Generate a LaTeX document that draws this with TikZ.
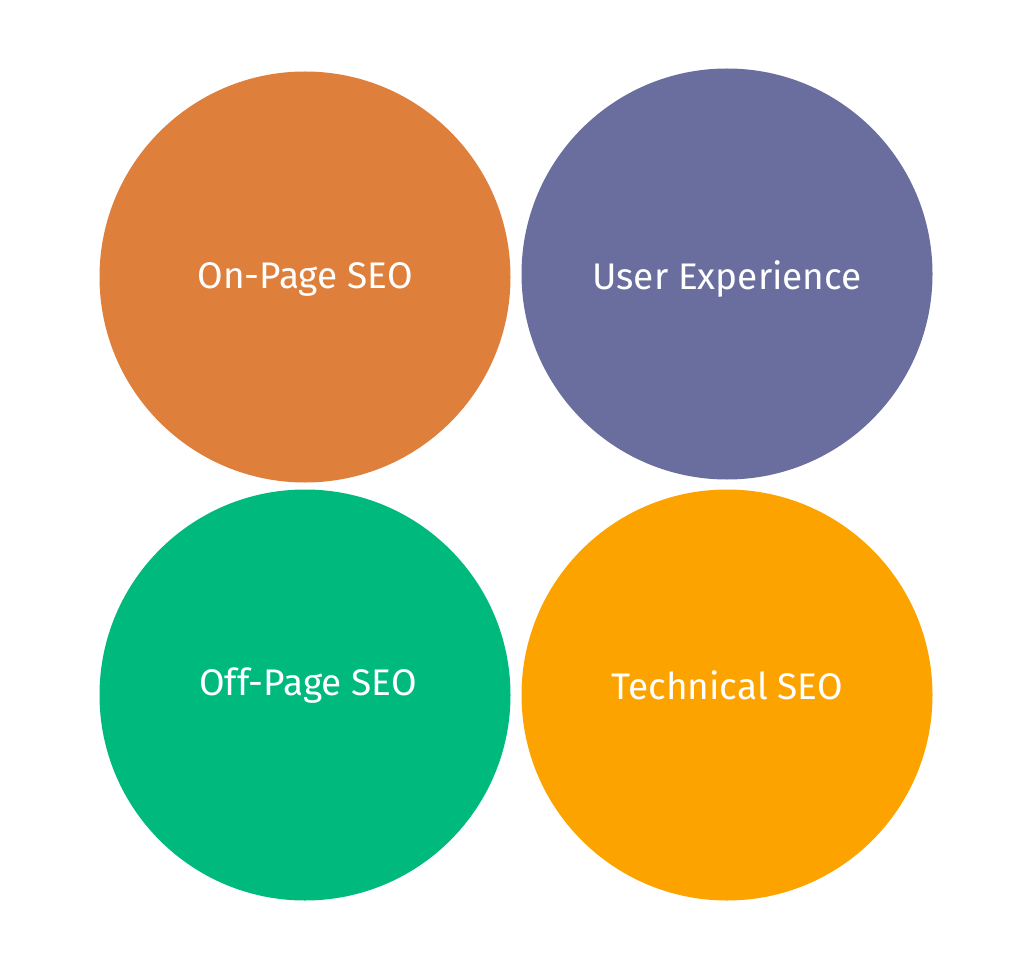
\documentclass[tikz,border=0pt]{standalone}
\usepackage{fontspec}
\setmainfont{Fira Sans}
\definecolor{cOn}{HTML}{DF7F3C}
\definecolor{cUx}{HTML}{696E9E}
\definecolor{cOff}{HTML}{00BA7D}
\definecolor{cTech}{HTML}{FCA300}
\begin{document}
\begin{tikzpicture}[x=1pt,y=-1pt,
  blob/.style={circle,minimum size=411pt,inner sep=0pt},
  lbl/.style={text=white,font=\fontsize{37}{44}\selectfont,inner sep=0pt}]
\useasboundingbox (0,0) rectangle (1024,965);
\node[blob,fill=cOn] (on) at (305,277) {};
\node[blob,fill=cUx] (ux) at (727,274) {};
\node[blob,fill=cOff] (off) at (305,695) {};
\node[blob,fill=cTech] (tech) at (727,695) {};
\node[lbl] (tOn) at (305,279) {On-Page SEO};
\node[lbl] (tUx) at (727,279) {User Experience};
\node[lbl] (tOff) at (308,686) {Off-Page SEO};
\node[lbl] (tTech) at (727,685) {Technical SEO};
\end{tikzpicture}
\end{document}
